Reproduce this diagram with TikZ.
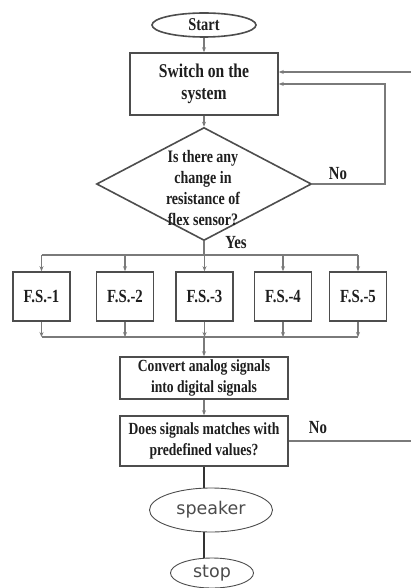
\documentclass[tikz,border=0pt]{standalone}
\usepackage{fontspec}
\setmainfont{Liberation Serif}
\newfontfamily\condfont{Liberation Serif}[FakeStretch=0.8]
\newfontfamily\spkfont{DejaVu Sans}
\usepackage{xcolor}
\definecolor{flowGray}{HTML}{4D4D4D}
\definecolor{lineGray}{HTML}{7A7A7A}
\definecolor{textDark}{HTML}{1E1E1E}
\usepackage{tikz}
\usetikzlibrary{shapes, arrows.meta, positioning, calc}

\begin{document}
\begin{tikzpicture}[
    x=1pt, y=-1pt,
    flowbox/.style={
        rectangle,
        draw=flowGray,
        line width=1.6pt,
        fill=white,
        inner sep=0pt,
        align=center,
        text=textDark,
        font=\condfont\bfseries\fontsize{17}{21}\selectfont
    },
    termbox/.style={flowbox, ellipse},
    sensorbox/.style={flowbox, minimum width=57pt, minimum height=49pt,
        font=\condfont\bfseries\fontsize{18.5}{21}\selectfont},
    endbox/.style={
        ellipse,
        draw=flowGray,
        line width=0.9pt,
        inner sep=0pt,
        text=textDark!80,
        font=\spkfont\fontsize{17.5}{19}\selectfont
    },
    flowtext/.style={align=center, text=textDark, font=\condfont\bfseries\fontsize{17.5}{21}\selectfont},
    flowlabel/.style={text=textDark, font=\condfont\bfseries\fontsize{18.5}{20}\selectfont},
    flow/.style={-{Stealth[length=5pt, width=4pt]}, line width=1.1pt, lineGray},
    link/.style={line width=1.1pt, lineGray}
]
\useasboundingbox (0,0) rectangle (411,588);

\node[termbox, minimum width=104pt, minimum height=24pt,
      font=\condfont\bfseries\fontsize{18}{20}\selectfont] (start) at (204,25) {Start};
\node[flowbox, minimum width=148pt, minimum height=62pt,
      font=\condfont\bfseries\fontsize{19.5}{22}\selectfont] (switch) at (204,84) {Switch on the\\system};
\node[diamond, draw=flowGray, line width=1.6pt, inner sep=0pt,
      minimum width=215pt, minimum height=113pt] (check) at (204,184) {};
\node[flowtext] (checktxt) at (203,188) {Is there any\\change in\\resistance of\\flex sensor?};

\node[sensorbox] (fs1) at (41.5,296.5) {F.S.-1};
\node[sensorbox] (fs2) at (125,296.5) {F.S.-2};
\node[sensorbox] (fs3) at (204.5,296.5) {F.S.-3};
\node[sensorbox] (fs4) at (283,296.5) {F.S.-4};
\node[sensorbox] (fs5) at (358,296.5) {F.S.-5};

\node[flowbox, minimum width=168pt, minimum height=42pt] (convert) at (204,378) {Convert analog signals\\into digital signals};
\node[flowbox, minimum width=168pt, minimum height=50pt] (match) at (204,441) {Does signals matches with\\predefined values?};
\node[endbox, minimum width=123pt, minimum height=44pt] (speaker) at (211,510) {speaker};
\node[endbox, minimum width=83pt, minimum height=30pt] (stop) at (212,573) {stop};

\node[flowlabel] (nocheck) at (338,174) {No};
\node[flowlabel] (yes) at (236,243) {Yes};
\node[flowlabel] (nomatch) at (318,428) {No};

% bus lines and loop corners
\coordinate (busT) at (0,255);
\coordinate (busB) at (0,337);
\coordinate (loopA) at (385,184);
\coordinate (loopB) at (385,84);
\coordinate (backA) at (420,441);
\coordinate (backB) at (420,72);

\draw[flow] (start) -- (switch);
\draw[flow] (switch) -- (check);
\draw[flow] (check.east) -- (loopA) -- (loopB) -- (switch.east |- loopB);

\draw[link] (check.south) -- (check.south |- busT);
\draw[link] (fs1.north |- busT) -- (fs5.north |- busT);
\draw[flow] (fs1.north |- busT) -- (fs1.north);
\draw[flow] (fs2.north |- busT) -- (fs2.north);
\draw[flow] (fs3.north |- busT) -- (fs3.north);
\draw[flow] (fs4.north |- busT) -- (fs4.north);
\draw[flow] (fs5.north |- busT) -- (fs5.north);

\draw[flow] (fs1.south) -- (fs1.south |- busB);
\draw[flow] (fs2.south) -- (fs2.south |- busB);
\draw[flow] (fs3.south) -- (fs3.south |- busB);
\draw[flow] (fs4.south) -- (fs4.south |- busB);
\draw[flow] (fs5.south) -- (fs5.south |- busB);
\draw[link] (fs1.south |- busB) -- (fs5.south |- busB);
\draw[flow] (convert.north |- busB) -- (convert.north);

\draw[flow] (convert) -- (match);
\draw[flow] (match.east) -- (backA) -- (backB) -- (switch.east |- backB);
\draw[line width=1.1pt, black!80] (match.south) -- (match.south |- speaker.north);
\draw[line width=1.1pt, black!80] (match.south |- speaker.south) -- (match.south |- stop.north);
\end{tikzpicture}
\end{document}
